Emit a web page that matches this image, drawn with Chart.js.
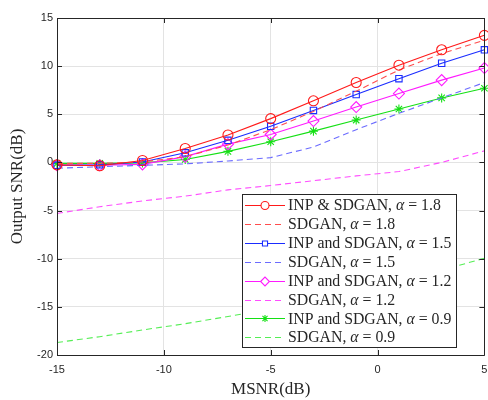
<!DOCTYPE html>
<html>
<head>
<meta charset="utf-8">
<script src="https://cdn.jsdelivr.net/npm/chart.js@4.4.1/dist/chart.umd.min.js"></script>
<style>
  html, body { margin: 0; padding: 0; background: #fff; overflow: hidden; }
  #wrap { width: 491px; height: 400px; }
</style>
</head>
<body>
<div id="wrap"><canvas id="snrChart" width="491" height="400"></canvas></div>
<script>
// MSNR (dB) en abscisse, SNR de sortie (dB) en ordonnée
const msnr = [-15, -13, -11, -9, -7, -5, -3, -1, 1, 3, 5];

const inpA18   = [-0.25, -0.35, 0.2, 1.45, 2.85, 4.55, 6.4, 8.3, 10.1, 11.7, 13.2];
const sdganA18 = [-0.1, -0.1, 0.05, 0.6, 1.8, 3.4, 5.3, 7.4, 9.6, 11.3, 12.7];
const inpA15   = [-0.3, -0.25, 0.05, 1.0, 2.3, 3.75, 5.4, 7.05, 8.7, 10.3, 11.7];
const sdganA15 = [-0.6, -0.45, -0.3, -0.15, 0.15, 0.5, 1.6, 3.4, 5.1, 6.7, 8.3];
const inpA12   = [-0.3, -0.3, -0.2, 0.6, 1.9, 2.9, 4.3, 5.75, 7.15, 8.55, 9.8];
const sdganA12 = [-5.3, -4.6, -4.0, -3.5, -2.85, -2.4, -1.9, -1.4, -0.95, 0.0, 1.2];
const inpA09   = [-0.1, -0.1, -0.05, 0.3, 1.15, 2.15, 3.25, 4.4, 5.55, 6.7, 7.7];
const sdganA09 = [-18.7, -18.1, -17.4, -16.75, -16.0, -15.2, -14.3, -13.4, -12.4, -11.2, -9.95];

const seriesLabels = [
  "INP & SDGAN, α = 1.8",
  "SDGAN, α = 1.8",
  "INP and SDGAN, α = 1.5",
  "SDGAN, α = 1.5",
  "INP and SDGAN, α = 1.2",
  "SDGAN, α = 1.2",
  "INP and SDGAN, α = 0.9",
  "SDGAN, α = 0.9"
];
const seriesValues = [inpA18, sdganA18, inpA15, sdganA15, inpA12, sdganA12, inpA09, sdganA09];

const xTicks = [-15, -10, -5, 0, 5];
const yTicks = [-20, -15, -10, -5, 0, 5, 10, 15];

// styles (couleur, tirets, marqueur)
const styles = [
  { color: "#ff1a1a", dash: [], point: "circle", r: 5 },
  { color: "#ff4d4d", dash: [6, 4], point: false, r: 0 },
  { color: "#1a2cff", dash: [], point: "rect", r: 4.5 },
  { color: "#6b6bff", dash: [6, 4], point: false, r: 0 },
  { color: "#ff1aff", dash: [], point: "rectRot", r: 5.5 },
  { color: "#ff4dff", dash: [6, 4], point: false, r: 0 },
  { color: "#14e014", dash: [], point: "star", r: 4.5 },
  { color: "#55ee55", dash: [6, 4], point: false, r: 0 }
];

const datasets = seriesValues.map((vals, i) => ({
  label: seriesLabels[i],
  data: vals.map((v, j) => ({ x: msnr[j], y: v })),
  borderColor: styles[i].color,
  backgroundColor: "rgba(0,0,0,0)",
  borderWidth: 1.1,
  borderDash: styles[i].dash,
  pointStyle: styles[i].point,
  pointRadius: styles[i].r,
  pointBorderWidth: 1.1,
  pointBorderColor: styles[i].color,
  pointBackgroundColor: "rgba(0,0,0,0)",
  tension: 0,
  clip: false
}));

const AXIS = "#262626";
const tickFont = { family: "'Liberation Sans', Arial, sans-serif", size: 11 };
const titleFont = { family: "'Liberation Serif', 'Times New Roman', serif", size: 17 };

// cadre + graduations intérieures
const framePlugin = {
  id: "frame",
  afterDraw: chart => {
    const ctx = chart.ctx;
    const a = chart.chartArea;
    const xs = chart.scales.x, ys = chart.scales.y;
    ctx.save();
    ctx.strokeStyle = AXIS;
    ctx.lineWidth = 1;
    ctx.beginPath();
    ctx.rect(Math.round(a.left) + 0.5, Math.round(a.top) + 0.5,
             Math.round(a.right - a.left), Math.round(a.bottom - a.top));
    ctx.stroke();
    ctx.beginPath();
    xTicks.forEach(t => {
      const x = Math.round(xs.getPixelForValue(t)) + 0.5;
      ctx.moveTo(x, a.bottom); ctx.lineTo(x, a.bottom - 5);
      ctx.moveTo(x, a.top); ctx.lineTo(x, a.top + 5);
    });
    yTicks.forEach(t => {
      const y = Math.round(ys.getPixelForValue(t)) + 0.5;
      ctx.moveTo(a.left, y); ctx.lineTo(a.left + 5, y);
      ctx.moveTo(a.right, y); ctx.lineTo(a.right - 5, y);
    });
    ctx.stroke();
    ctx.restore();
  }
};

// légende façon MATLAB, alpha en italique
const legendPlugin = {
  id: "matlabLegend",
  afterDraw: chart => {
    const ctx = chart.ctx;
    const left = 242, top = 194, rowH = 18.9;
    const lineX0 = 245, lineX1 = 285, textX = 288;
    const fontN = "15.8px 'Liberation Serif', 'Times New Roman', serif";
    const fontI = "italic 15.8px 'Liberation Serif', 'Times New Roman', serif";

    ctx.save();
    // largeur max du texte
    let maxW = 0;
    seriesLabels.forEach(lbl => {
      const parts = lbl.split("α");
      ctx.font = fontN;
      let w = ctx.measureText(parts[0]).width + ctx.measureText(parts[1]).width;
      ctx.font = fontI;
      w += ctx.measureText("α").width;
      maxW = Math.max(maxW, w);
    });
    const boxW = textX + maxW + 5 - left;
    const boxH = rowH * seriesLabels.length + 2;

    ctx.fillStyle = "#fff";
    ctx.fillRect(left, top, boxW, boxH);
    ctx.strokeStyle = AXIS;
    ctx.lineWidth = 1;
    ctx.strokeRect(left + 0.5, top + 0.5, Math.round(boxW), Math.round(boxH));

    chart.data.datasets.forEach((ds, i) => {
      const y = top + 11 + i * rowH;
      ctx.strokeStyle = ds.borderColor;
      ctx.lineWidth = 1.1;
      ctx.setLineDash(ds.borderDash);
      ctx.beginPath();
      ctx.moveTo(lineX0, Math.round(y) + 0.5);
      ctx.lineTo(lineX1, Math.round(y) + 0.5);
      ctx.stroke();
      ctx.setLineDash([]);
      if (ds.pointStyle) {
        ctx.fillStyle = "#fff";
        Chart.helpers.drawPoint(ctx, {
          pointStyle: ds.pointStyle,
          radius: ds.pointRadius * 0.8,
          rotation: 0,
          borderWidth: 1
        }, (lineX0 + lineX1) / 2, Math.round(y) + 0.5);
      }
      // texte
      const parts = ds.label.split("α");
      ctx.fillStyle = AXIS;
      ctx.textBaseline = "middle";
      ctx.textAlign = "left";
      let x = textX;
      ctx.font = fontN;
      ctx.fillText(parts[0], x, y + 1);
      x += ctx.measureText(parts[0]).width;
      ctx.font = fontI;
      ctx.fillText("α", x, y + 1);
      x += ctx.measureText("α").width;
      ctx.font = fontN;
      ctx.fillText(parts[1], x, y + 1);
    });
    ctx.restore();
  }
};

const ctx = document.getElementById("snrChart").getContext("2d");
new Chart(ctx, {
  type: "line",
  data: { datasets: datasets },
  options: {
    responsive: false,
    animation: false,
    layout: { padding: { top: 18, right: 4, bottom: 0, left: 0 } },
    scales: {
      x: {
        type: "linear",
        min: -15,
        max: 5,
        afterBuildTicks: s => { s.ticks = xTicks.map(v => ({ value: v })); },
        afterFit: s => { s.height = 45; s.paddingRight = 0; s.paddingLeft = 0; },
        ticks: { color: AXIS, font: tickFont, padding: 8, maxRotation: 0 },
        grid: { color: "#e3e3e3", lineWidth: 1, drawTicks: false },
        border: { display: false },
        title: { display: true, text: "MSNR(dB)", color: AXIS, font: titleFont, padding: { top: 0, bottom: 0 } }
      },
      y: {
        min: -20,
        max: 15,
        afterBuildTicks: s => { s.ticks = yTicks.map(v => ({ value: v })); },
        afterFit: s => { s.width = 57; },
        ticks: { color: AXIS, font: tickFont, padding: 4 },
        grid: { color: "#e3e3e3", lineWidth: 1, drawTicks: false },
        border: { display: false },
        title: { display: true, text: "Output SNR(dB)", color: AXIS, font: titleFont, padding: { top: 7, bottom: 0 } }
      }
    },
    plugins: {
      legend: { display: false },
      tooltip: { enabled: false }
    }
  },
  plugins: [framePlugin, legendPlugin]
});
</script>
</body>
</html>
